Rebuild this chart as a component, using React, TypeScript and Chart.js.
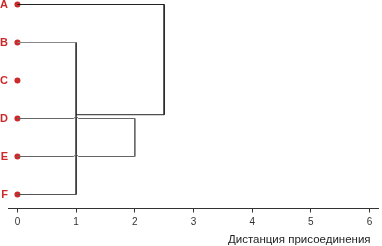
import React, { useEffect, useRef } from "react";
import { Chart, registerables } from "chart.js";

Chart.register(...registerables);

const leafLabels = ["F", "E", "D", "C", "B", "A"];
const leafRows = [0, 1, 2, 3, 4, 5];
const xTicks = [0, 1, 2, 3, 4, 5, 6];
const axisTitle = "Дистанция присоединения";

// link paths: [distance, row]
const linkA: [number, number][] = [[0, 5], [2.5, 5], [2.5, 2.1], [1, 2.1]];
const linkB: [number, number][] = [[0, 4], [1, 4]];
const linkBF: [number, number][] = [[1, 4], [1, 0]];
const linkF: [number, number][] = [[0, 0], [1, 0]];
const linkDE: [number, number][] = [
  [0, 2], [0.96, 2], [1, 2.06], [1.04, 2], [2, 2],
  [2, 1], [1.04, 1], [1, 1.06], [0.96, 1], [0, 1],
];

const toPts = (a: [number, number][]) => a.map(([x, y]) => ({ x, y }));

const titlePlugin = {
  id: "axisTitleEnd",
  afterDraw(chart: any) {
    const ctx = chart.ctx;
    const xs = chart.scales.x;
    ctx.save();
    ctx.font = "11.5px 'Liberation Sans'";
    ctx.fillStyle = "#222";
    ctx.textAlign = "right";
    ctx.textBaseline = "middle";
    ctx.fillText(axisTitle, xs.getPixelForValue(xTicks[xTicks.length - 1]) + 1, 240);
    ctx.restore();
  },
};

export default function App() {
  const ref = useRef<HTMLCanvasElement>(null);
  useEffect(() => {
    document.body.style.margin = "0";
    const line = (d: [number, number][], color: string) => ({
      data: toPts(d),
      showLine: true,
      borderColor: color,
      borderWidth: 1,
      pointRadius: 0,
      fill: false,
      clip: false as any,
    });
    const chart = new Chart(ref.current!, {
      type: "scatter",
      data: {
        datasets: [
          line(linkA, "#222"),
          line(linkB, "#888"),
          line(linkF, "#555"),
          line(linkDE, "#666"),
          line(linkBF, "#333"),
          {
            data: leafRows.map((r) => ({ x: 0, y: r })),
            showLine: false,
            pointRadius: 3,
            pointBackgroundColor: "#cc2a2a",
            pointBorderWidth: 0,
            clip: false as any,
          } as any,
        ],
      },
      plugins: [titlePlugin],
      options: {
        animation: false,
        responsive: false,
        events: [],
        layout: { padding: { top: 4.5, right: 2, left: 0, bottom: 0 } },
        plugins: { legend: { display: false }, tooltip: { enabled: false } },
        scales: {
          x: {
            type: "linear",
            min: -0.161,
            max: 6.144,
            afterBuildTicks: (s: any) => {
              s.ticks = xTicks.map((v) => ({ value: v }));
            },
            afterFit: (s: any) => {
              s.height = 37.5;
              s.paddingLeft = 0;
              s.paddingRight = 0;
            },
            grid: { drawOnChartArea: false, drawTicks: true, tickLength: 4, color: "#333" },
            border: { display: true, color: "#333" },
            ticks: {
              padding: 4,
              color: "#333",
              font: { family: "Liberation Sans", size: 10 },
            },
          },
          y: {
            type: "linear",
            min: -0.368,
            max: 5,
            afterBuildTicks: (s: any) => {
              s.ticks = leafRows.map((v) => ({ value: v }));
            },
            afterFit: (s: any) => {
              s.width = 8;
              s.paddingTop = 0;
              s.paddingBottom = 0;
            },
            grid: { display: false, drawTicks: false },
            border: { display: false },
            ticks: {
              padding: 0,
              color: "#cc2a2a",
              font: { family: "Liberation Sans", size: 11, weight: "bold" },
              callback: (v: any) => leafLabels[v] ?? "",
            },
          },
        },
      },
    });
    return () => chart.destroy();
  }, []);
  return (
    <div style={{ width: 382, height: 246 }}>
      <canvas ref={ref} width={382} height={246} />
    </div>
  );
}
